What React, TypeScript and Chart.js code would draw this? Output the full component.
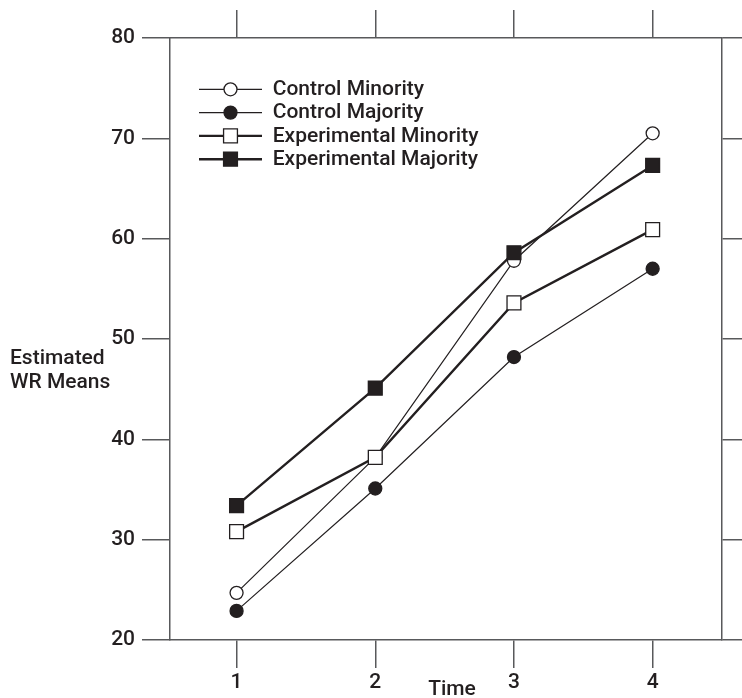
import React, { useEffect, useRef } from 'react';
import { Chart, registerables } from 'chart.js';

Chart.register(...registerables);

// ---- data ----
const TIMES = [1, 2, 3, 4];
const Y_TICKS = [20, 30, 40, 50, 60, 70, 80];
const SERIES_NAMES = ['Control Minority', 'Control Majority', 'Experimental Minority', 'Experimental Majority'];
const controlMinority = [24.7, 38.2, 57.8, 70.5];
const controlMajority = [22.9, 35.1, 48.2, 57.0];
const experimentalMinority = [30.8, 38.2, 53.6, 60.9];
const experimentalMajority = [33.4, 45.1, 58.6, 67.3];
const X_TITLE = 'Time';
const Y_TITLE = ['Estimated', 'WR Means'];

// ---- styles ----
const INK = '#231f20';
const AXIS = '#58595b';
const FONT_FAMILY = 'Roboto';
const FONT_SIZE = 21;
const FONT_WEIGHT = 500;

const toPoints = (vals: number[]) => TIMES.map((t, i) => ({ x: t, y: vals[i] }));

const insideLegend = {
  id: 'insideLegend',
  afterDatasetsDraw(chart: any) {
    const ctx = chart.ctx as CanvasRenderingContext2D;
    chart.data.datasets.forEach((ds: any, i: number) => {
      const y = 89.3 + i * 23.3;
      ctx.save();
      ctx.strokeStyle = ds.borderColor;
      ctx.lineWidth = ds.borderWidth;
      ctx.beginPath();
      ctx.moveTo(199, y);
      ctx.lineTo(262, y);
      ctx.stroke();
      ctx.fillStyle = ds.pointBackgroundColor;
      ctx.strokeStyle = ds.pointBorderColor;
      ctx.lineWidth = ds.pointBorderWidth;
      ctx.beginPath();
      const cx = 230.5;
      if (ds.pointStyle === 'circle') {
        ctx.arc(cx, y, ds.pointRadius, 0, Math.PI * 2);
      } else {
        const h = ds.pointRadius * Math.SQRT1_2;
        ctx.rect(cx - h, y - h, 2 * h, 2 * h);
      }
      ctx.fill();
      ctx.stroke();
      ctx.font = `${FONT_WEIGHT} ${FONT_SIZE}px ${FONT_FAMILY}`;
      ctx.fillStyle = INK;
      ctx.textBaseline = 'middle';
      ctx.textAlign = 'left';
      ctx.fillText(ds.label, 272.7, y + 0.5);
      ctx.restore();
    });
  },
};

const axisTitles = {
  id: 'axisTitles',
  afterDraw(chart: any) {
    const ctx = chart.ctx as CanvasRenderingContext2D;
    ctx.save();
    ctx.font = `${FONT_WEIGHT} ${FONT_SIZE}px ${FONT_FAMILY}`;
    ctx.fillStyle = INK;
    ctx.textBaseline = 'alphabetic';
    ctx.textAlign = 'left';
    Y_TITLE.forEach((line, i) => ctx.fillText(line, 10, 364 + i * 23.5));
    ctx.textAlign = 'center';
    ctx.fillText(X_TITLE, 452, 695);
    ctx.restore();
  },
};

const tickFont = { family: FONT_FAMILY, size: FONT_SIZE, weight: FONT_WEIGHT };
const gridOpts = { drawOnChartArea: false, drawTicks: true, tickLength: 28, color: AXIS, lineWidth: 1.5 };
const borderOpts = { display: true, color: AXIS, width: 1.5 };

export default function App() {
  const ref = useRef<HTMLCanvasElement | null>(null);
  useEffect(() => {
    if (!ref.current) return;
    const mk = (label: string, vals: number[], style: string, filled: boolean, lw: number, radius: number, order: number) => ({
      label,
      data: toPoints(vals),
      borderColor: INK,
      borderWidth: lw,
      pointStyle: style,
      pointRadius: radius,
      pointHoverRadius: radius,
      pointBackgroundColor: filled ? INK : '#ffffff',
      pointBorderColor: INK,
      pointBorderWidth: 1.3,
      tension: 0,
      fill: false,
      order,
    });
    const chart = new Chart(ref.current, {
      type: 'line',
      data: {
        datasets: [
          mk(SERIES_NAMES[0], controlMinority, 'circle', false, 1.2, 6.5, 4),
          mk(SERIES_NAMES[1], controlMajority, 'circle', true, 1.2, 6.5, 3),
          mk(SERIES_NAMES[2], experimentalMinority, 'rect', false, 2.4, 9.8, 2),
          mk(SERIES_NAMES[3], experimentalMajority, 'rect', true, 2.4, 9.8, 1),
        ] as any,
      },
      options: {
        responsive: false,
        animation: false,
        events: [],
        layout: { padding: 0 },
        plugins: { legend: { display: false }, tooltip: { enabled: false }, title: { display: false } },
        scales: {
          x: {
            type: 'linear',
            position: 'bottom',
            min: 0.52,
            max: 4.5,
            afterBuildTicks: (s: any) => { s.ticks = TIMES.map((v) => ({ value: v })); },
            afterFit: (s: any) => { s.height = 58; },
            ticks: { font: tickFont, color: INK, padding: 2, maxRotation: 0, autoSkip: false, callback: (v: any) => String(v) },
            grid: gridOpts,
            border: borderOpts,
          },
          x2: {
            type: 'linear',
            axis: 'x',
            position: 'top',
            min: 0.52,
            max: 4.5,
            afterBuildTicks: (s: any) => { s.ticks = TIMES.map((v) => ({ value: v })); },
            afterFit: (s: any) => { s.height = 38; },
            ticks: { display: false },
            grid: gridOpts,
            border: borderOpts,
          },
          y: {
            type: 'linear',
            position: 'left',
            min: 20,
            max: 80,
            afterBuildTicks: (s: any) => { s.ticks = Y_TICKS.map((v) => ({ value: v })); },
            afterFit: (s: any) => { s.width = 170; },
            ticks: { font: tickFont, color: INK, padding: 7, callback: (v: any) => String(v) },
            grid: gridOpts,
            border: borderOpts,
          },
          y2: {
            type: 'linear',
            axis: 'y',
            position: 'right',
            min: 20,
            max: 80,
            afterBuildTicks: (s: any) => { s.ticks = Y_TICKS.map((v) => ({ value: v })); },
            afterFit: (s: any) => { s.width = 20; },
            ticks: { display: false },
            grid: gridOpts,
            border: borderOpts,
          },
        },
      } as any,
      plugins: [insideLegend, axisTitles],
    });
    return () => chart.destroy();
  }, []);
  return (
    <div style={{ position: 'absolute', left: 0, top: 0, width: 742, height: 698, background: '#ffffff' }}>
      <canvas ref={ref} width={742} height={698} style={{ display: 'block' }} />
    </div>
  );
}
